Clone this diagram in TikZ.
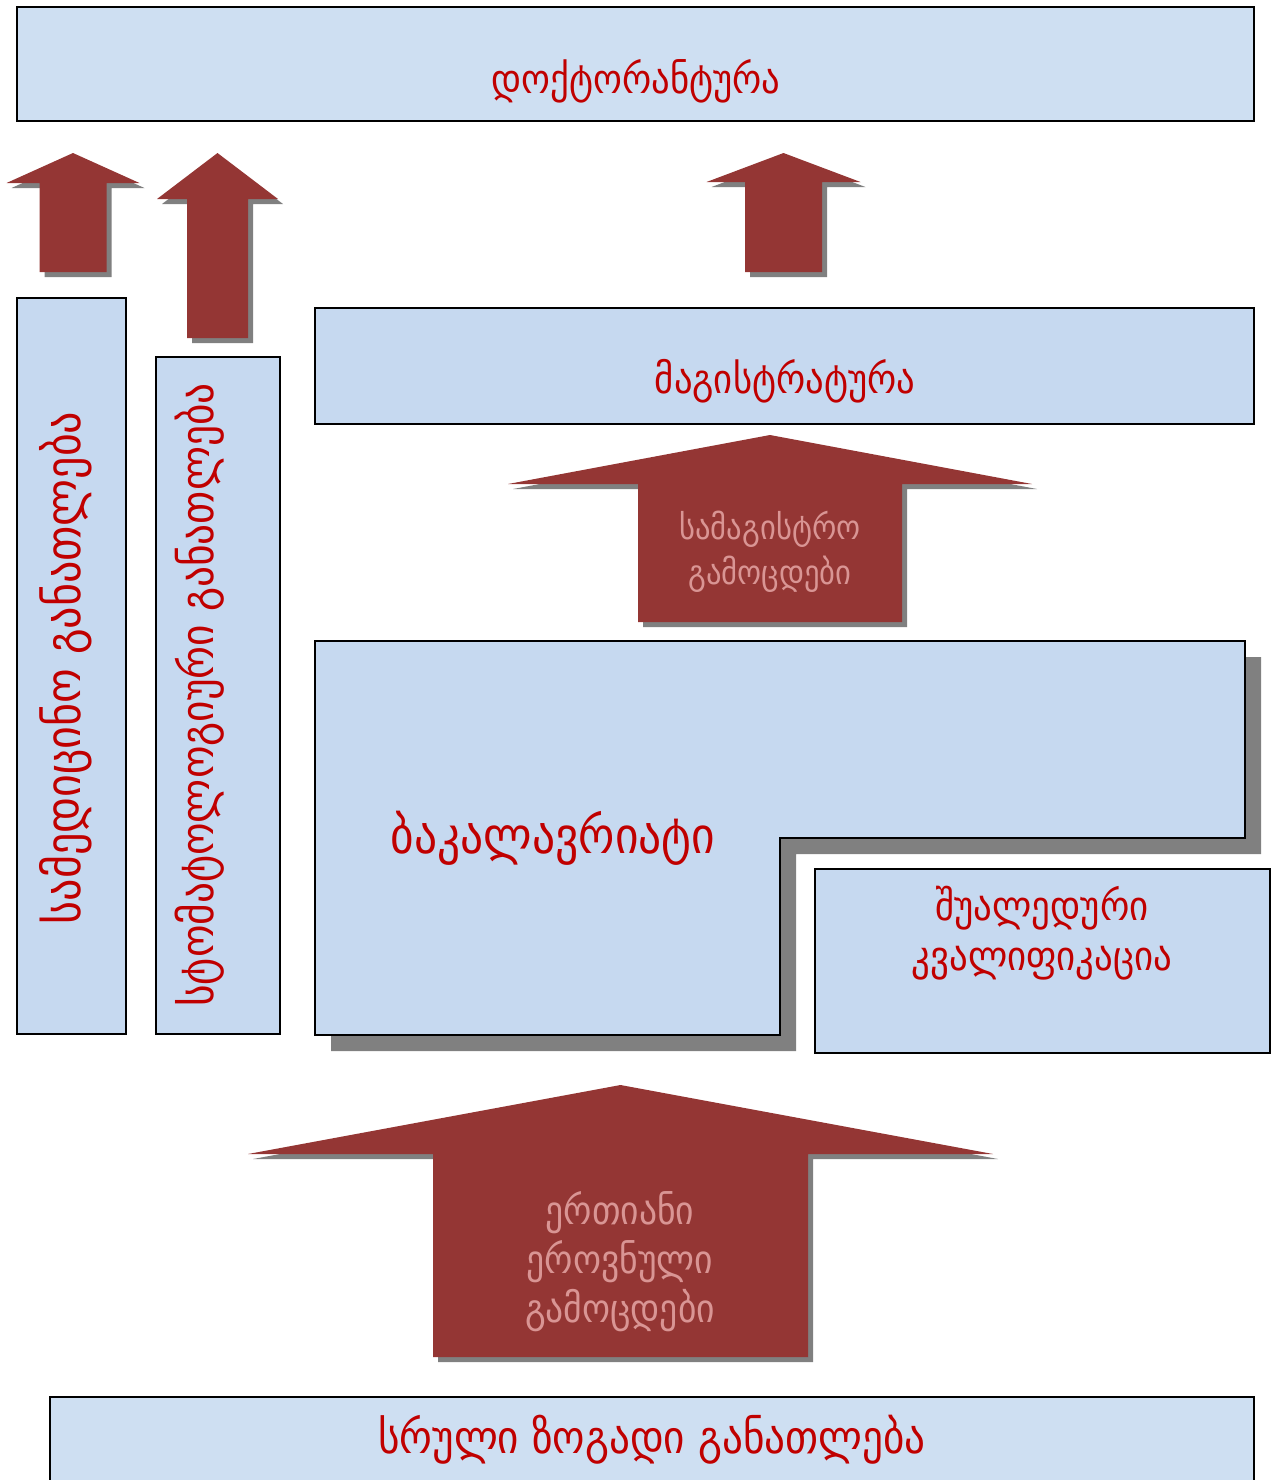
\documentclass[tikz,border=0pt]{standalone}
\usepackage{fontspec}
\setmainfont{DejaVu Sans Condensed}
\usetikzlibrary{positioning}
\definecolor{BoxBlue}{RGB}{198,217,240}
\definecolor{PaleBlue}{RGB}{206,223,242}
\definecolor{ArrowRed}{RGB}{148,54,52}
\definecolor{LabelRed}{RGB}{192,0,0}
\definecolor{ArrowPink}{RGB}{217,149,148}
\definecolor{ShadowGray}{RGB}{128,128,128}

% block arrow pointing up: centre x, tip y, head half width, head y, shaft half width, bottom y
\newcommand\blockup[6]{%
  \fill[ShadowGray,shift={(5,5)}] (#1,#2) -- ({#1+#3},#4) -- ({#1+#5},#4) -- ({#1+#5},#6)
    -- ({#1-#5},#6) -- ({#1-#5},#4) -- ({#1-#3},#4) -- cycle;
  \fill[ArrowRed] (#1,#2) -- ({#1+#3},#4) -- ({#1+#5},#4) -- ({#1+#5},#6)
    -- ({#1-#5},#6) -- ({#1-#5},#4) -- ({#1-#3},#4) -- cycle;
}
\newcommand\fsz[1]{\fontsize{#1}{1.2\dimexpr#1pt\relax}\selectfont}

\begin{document}
\begin{tikzpicture}[x=0.5pt,y=-0.5pt,
  box/.style={draw=black,line width=1pt,fill=BoxBlue,inner sep=0pt},
  lbl/.style={text=LabelRed,inner sep=0pt},
  arrlbl/.style={text=ArrowPink,align=center,inner sep=0pt}]
\useasboundingbox (0,0) rectangle (1278,1480);

% boxes
\node[box,fill=PaleBlue,minimum width=618.5pt,minimum height=57pt] (doktbox) at (635.5,64) {};
\node[box,minimum width=54.5pt,minimum height=368pt] (medbox) at (71.5,666) {};
\node[box,minimum width=62pt,minimum height=338.5pt] (stombox) at (218,695.5) {};
\node[box,minimum width=469.5pt,minimum height=58pt] (magbox) at (784.5,366) {};
\node[box,minimum width=227.5pt,minimum height=92pt] (shualbox) at (1042.5,961) {};
\node[box,fill=PaleBlue,minimum width=602pt,minimum height=49pt] (srulibox) at (652,1446) {};

% bachelor block with its shadow
\fill[ShadowGray,shift={(16,16)}] (315,641) -- (1245,641) -- (1245,838) -- (780,838)
  -- (780,1035) -- (315,1035) -- cycle;
\draw[box] (315,641) -- (1245,641) -- (1245,838) -- (780,838)
  -- (780,1035) -- (315,1035) -- cycle;

% arrows
\blockup{73}{153}{66.5}{183}{33.5}{272}
\blockup{217.5}{153}{60.5}{199}{30.5}{338}
\blockup{783.5}{153}{77}{182}{38.5}{272}
\blockup{770}{435}{262}{484}{132}{622}
\blockup{620.5}{1085}{372.5}{1154}{187.5}{1357}

% labels
\node[lbl,font=\fsz{20.4}] (dokt) at (636,81) {დოქტორანტურა};
\node[lbl,font=\fsz{20.4}] (mag) at (785,381) {მაგისტრატურა};
\node[lbl,font=\fsz{25.3}] (bak) at (553,838) {ბაკალავრიატი};
\node[lbl,align=center,font=\fontsize{20.5}{25}\selectfont] (shual) at (1042,933) {შუალედური\\კვალიფიკაცია};
\node[lbl,font=\fsz{22.9}] (sruli) at (652,1440) {სრული ზოგადი განათლება};
\node[lbl,rotate=90,font=\fsz{24.5}] (med) at (66,668) {სამედიცინო განათლება};
\node[lbl,rotate=90,font=\fsz{23}] (stom) at (200,695) {სტომატოლოგიური განათლება};
\node[arrlbl,font=\fontsize{17}{22.5}\selectfont] (samag) at (770,552) {სამაგისტრო\\გამოცდები};
\node[arrlbl,font=\fontsize{19.8}{24.5}\selectfont] (ert) at (620,1262) {ერთიანი\\ეროვნული\\გამოცდები};
\end{tikzpicture}
\end{document}
